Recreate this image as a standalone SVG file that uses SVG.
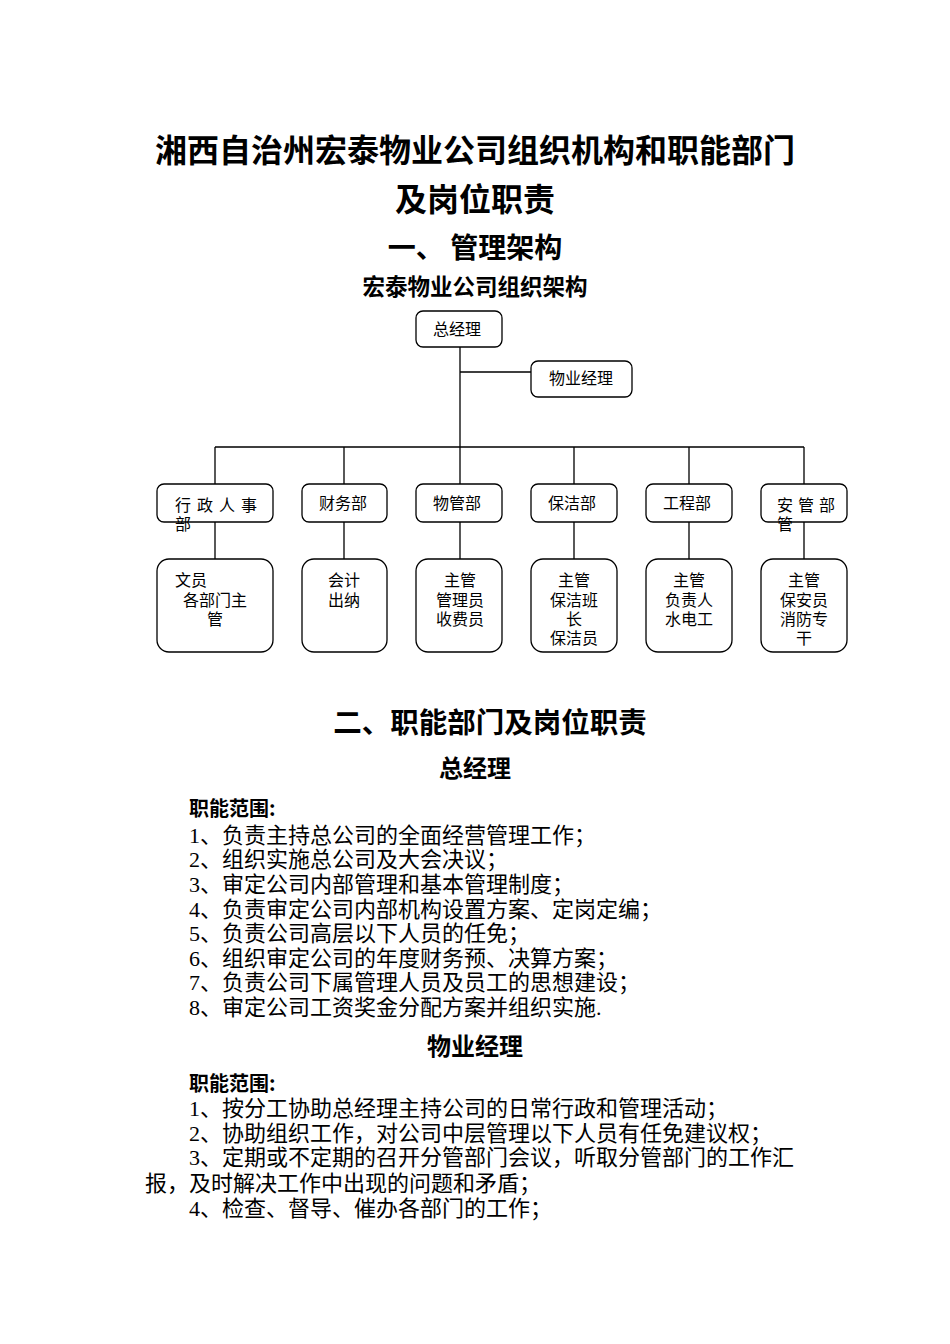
<svg xmlns="http://www.w3.org/2000/svg" width="950" height="1344" viewBox="0 0 950 1344">
<style>
.h{font-family:"Noto Sans CJK SC","Liberation Sans",sans-serif;font-weight:bold;fill:#000;text-anchor:middle}
.b{font-family:"Liberation Serif","Noto Sans CJK SC",serif;font-size:22px;fill:#000}
.bh{font-family:"Noto Sans CJK SC",sans-serif;font-weight:bold;font-size:20px;fill:#000}
.n{font-family:"Liberation Sans","Noto Sans CJK SC",sans-serif;font-size:16px;fill:#000;text-anchor:middle}
.nl{font-family:"Liberation Sans","Noto Sans CJK SC",sans-serif;font-size:16px;fill:#000}
.box{fill:#fff;stroke:#000;stroke-width:1.3}
.con{fill:none;stroke:#000;stroke-width:1.3}
</style>
<rect width="950" height="1344" fill="#fff"/>
<g id="headings">
<text class="h" x="475" y="162" font-size="32">湘西自治州宏泰物业公司组织机构和职能部门</text>
<text class="h" x="475" y="211" font-size="32">及岗位职责</text>
<text class="h" x="475" y="258" font-size="28">一、 管理架构</text>
<text class="h" x="475" y="295" font-size="22.5">宏泰物业公司组织架构</text>
</g>
<g id="connectors">
<path class="con" d="M460 347 V447 M460 372 H531 M215 447 H804 M215 447 V484 M344 447 V484 M460 447 V484 M574 447 V484 M689 447 V484 M804 447 V484 M215 522 V559 M344 522 V559 M460 522 V559 M574 522 V559 M689 522 V559 M804 522 V559"/>
</g>
<g id="n-gm"><rect class="box" x="416" y="311" width="86" height="36" rx="7"/><text class="n" x="457" y="335">总经理</text></g>
<g id="n-pm"><rect class="box" x="531" y="361" width="101" height="36" rx="7"/><text class="n" x="581" y="384">物业经理</text></g>
<g id="n-admin"><rect class="box" x="157" y="484" width="116" height="38" rx="7"/><text class="nl" y="511"><tspan x="175">行</tspan><tspan x="197">政</tspan><tspan x="219">人</tspan><tspan x="241">事</tspan></text><text class="nl" x="175" y="530">部</text></g>
<g id="n-fin"><rect class="box" x="302" y="484" width="85" height="38" rx="7"/><text class="n" x="343" y="509">财务部</text></g>
<g id="n-prop"><rect class="box" x="416" y="484" width="86" height="38" rx="7"/><text class="n" x="457" y="509">物管部</text></g>
<g id="n-clean"><rect class="box" x="531" y="484" width="86" height="38" rx="7"/><text class="n" x="572" y="509">保洁部</text></g>
<g id="n-eng"><rect class="box" x="646" y="484" width="86" height="38" rx="7"/><text class="n" x="687" y="509">工程部</text></g>
<g id="n-sec"><rect class="box" x="761" y="484" width="86" height="38" rx="7"/><text class="nl" y="511"><tspan x="777">安</tspan><tspan x="798">管</tspan><tspan x="819">部</tspan></text><text class="nl" x="777" y="530">管</text></g>
<g id="n-admin-staff"><rect class="box" x="157" y="559" width="116" height="93" rx="12"/><text class="nl" x="175" y="586">文员</text><text class="n" x="215" y="606">各部门主</text><text class="n" x="215" y="625">管</text></g>
<g id="n-fin-staff"><rect class="box" x="302" y="559" width="85" height="93" rx="12"/><text class="n" x="344" y="586">会计</text><text class="n" x="344" y="606">出纳</text></g>
<g id="n-prop-staff"><rect class="box" x="416" y="559" width="86" height="93" rx="12"/><text class="n" x="460" y="586">主管</text><text class="n" x="460" y="606">管理员</text><text class="n" x="460" y="625">收费员</text></g>
<g id="n-clean-staff"><rect class="box" x="531" y="559" width="86" height="93" rx="12"/><text class="n" x="574" y="586">主管</text><text class="n" x="574" y="606">保洁班</text><text class="n" x="574" y="625">长</text><text class="n" x="574" y="644">保洁员</text></g>
<g id="n-eng-staff"><rect class="box" x="646" y="559" width="86" height="93" rx="12"/><text class="n" x="689" y="586">主管</text><text class="n" x="689" y="606">负责人</text><text class="n" x="689" y="625">水电工</text></g>
<g id="n-sec-staff"><rect class="box" x="761" y="559" width="86" height="93" rx="12"/><text class="n" x="804" y="586">主管</text><text class="n" x="804" y="606">保安员</text><text class="n" x="804" y="625">消防专</text><text class="n" x="804" y="644">干</text></g>
<g id="section2">
<text class="h" x="490" y="733" font-size="28.5">二、职能部门及岗位职责</text>
<text class="h" x="475" y="777" font-size="24">总经理</text>
<text class="bh" x="189" y="816">职能范围:</text>
<text class="b" x="189" y="843">1、负责主持总公司的全面经营管理工作；</text>
<text class="b" x="189" y="867">2、组织实施总公司及大会决议；</text>
<text class="b" x="189" y="892">3、审定公司内部管理和基本管理制度；</text>
<text class="b" x="189" y="917">4、负责审定公司内部机构设置方案、定岗定编；</text>
<text class="b" x="189" y="941">5、负责公司高层以下人员的任免；</text>
<text class="b" x="189" y="966">6、组织审定公司的年度财务预、决算方案；</text>
<text class="b" x="189" y="990">7、负责公司下属管理人员及员工的思想建设；</text>
<text class="b" x="189" y="1015">8、审定公司工资奖金分配方案并组织实施.</text>
<text class="h" x="475" y="1055" font-size="24">物业经理</text>
<text class="bh" x="189" y="1091">职能范围:</text>
<text class="b" x="189" y="1116">1、按分工协助总经理主持公司的日常行政和管理活动；</text>
<text class="b" x="189" y="1141">2、协助组织工作，对公司中层管理以下人员有任免建议权；</text>
<text class="b" x="189" y="1165">3、定期或不定期的召开分管部门会议，听取分管部门的工作汇</text>
<text class="b" x="145" y="1191">报，及时解决工作中出现的问题和矛盾；</text>
<text class="b" x="189" y="1216">4、检查、督导、催办各部门的工作；</text>
</g>
</svg>
